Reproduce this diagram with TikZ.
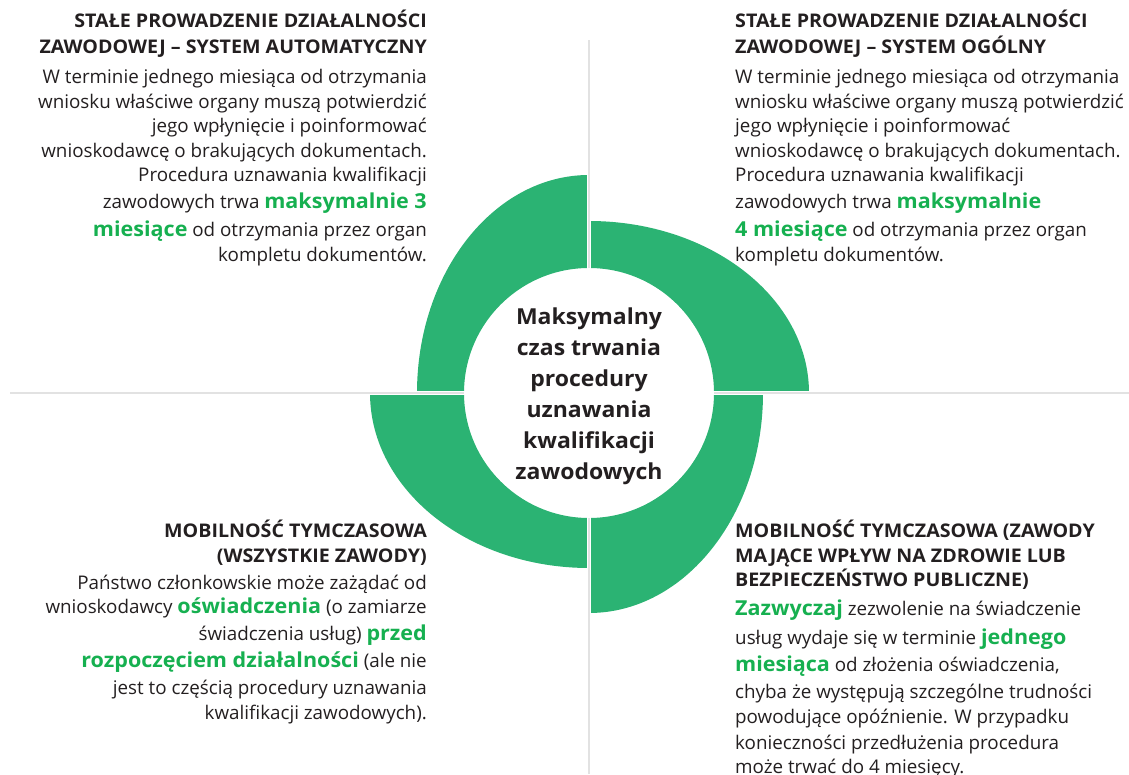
\documentclass[tikz,border=0pt]{standalone}
\usepackage{fontspec}
\setmainfont{Open Sans}[BoldFeatures={FakeStretch=1.045}]
\usetikzlibrary{positioning,calc}
\definecolor{ringgreen}{RGB}{43,179,115}
\definecolor{hlgreen}{RGB}{22,176,80}
\definecolor{ink}{RGB}{35,31,32}
\definecolor{axisgray}{RGB}{226,226,226}
\newcommand{\hl}[1]{{\fontsize{20.6}{24.5}\selectfont\bfseries\color{hlgreen}#1}}

\tikzset{
  quarter/.style={fill=ringgreen},
  axis/.style={draw=axisgray, line width=1.6pt},
  blurb/.style={inner sep=0pt, text=ink, font=\fontsize{18.8}{24.5}\selectfont},
  core/.style={inner sep=0pt, text=ink, align=center, font=\bfseries\fontsize{22}{31}\selectfont},
}

\begin{document}
\begin{tikzpicture}[x=1pt,y=1pt]
  \useasboundingbox (0,0) rectangle (1129,774);
  \coordinate (c) at (589,381);

  % four quarters of the ring
  \foreach \a/\rx/\ry in {0/220/172, 90/172/218, 180/219/175, 270/174/220}
    \fill[quarter] ($(c)+(\a:125)$) -- ($(c)+(\a:{\rx} and {\ry})$)
      arc[start angle=\a, delta angle=90, x radius=\rx, y radius=\ry]
      -- ($(c)+(\a+90:125)$) arc[start angle=\a+90, delta angle=-90, radius=125] -- cycle;

  % gaps and axes
  \draw[white, line width=3.6pt] ($(c)+(-225,0)$) -- ($(c)+(225,0)$);
  \draw[white, line width=3.6pt] ($(c)+(0,-225)$) -- ($(c)+(0,225)$);
  \draw[axis] (10,381) -- ($(c)+(-125,0)$);
  \draw[axis] ($(c)+(125,0)$) -- (1129,381);
  \draw[axis] (589,734) -- ($(c)+(0,125)$);
  \draw[axis] ($(c)+(0,-125)$) -- (589,0);

  \node[core, below=3pt of c, anchor=center] (title) {Maksymalny\\czas trwania\\procedury\\uznawania\\kwalifikacji\\zawodowych};

  \node[blurb, align=right, anchor=north east] (automat) at (427,764) {%
    \textbf{STAŁE PROWADZENIE DZIAŁALNOŚCI}\\[1.5pt]
    \textbf{ZAWODOWEJ – SYSTEM AUTOMATYCZNY}\\[5.5pt]
    W terminie jednego miesiąca od otrzymania\\
    wniosku właściwe organy muszą potwierdzić\\
    jego wpłynięcie i poinformować\\
    wnioskodawcę o brakujących dokumentach.\\
    Procedura uznawania kwalifikacji\\[2.5pt]
    zawodowych trwa \hl{maksymalnie 3}\\[3.5pt]
    \hl{miesiące} od otrzymania przez organ\\
    kompletu dokumentów.};

  \node[blurb, align=left, anchor=north west] (ogolny) at (735,764) {%
    \textbf{STAŁE PROWADZENIE DZIAŁALNOŚCI}\\[1.5pt]
    \textbf{ZAWODOWEJ – SYSTEM OGÓLNY}\\[5.5pt]
    W terminie jednego miesiąca od otrzymania\\
    wniosku właściwe organy muszą potwierdzić\\
    jego wpłynięcie i poinformować\\
    wnioskodawcę o brakujących dokumentach.\\
    Procedura uznawania kwalifikacji\\[2.5pt]
    zawodowych trwa \hl{maksymalnie}\\[3.5pt]
    \hl{4 miesiące} od otrzymania przez organ\\
    kompletu dokumentów.};

  \node[blurb, align=right, anchor=north east] (wszystkie) at (427,254) {%
    \textbf{MOBILNOŚĆ TYMCZASOWA}\\
    \textbf{(WSZYSTKIE ZAWODY)}\\[2.5pt]
    Państwo członkowskie może zażądać od\\
    wnioskodawcy \hl{oświadczenia} (o zamiarze\\[2.5pt]
    świadczenia usług) \hl{przed}\\[2.5pt]
    \hl{rozpoczęciem działalności} (ale nie\\[2.5pt]
    jest to częścią procedury uznawania\\
    kwalifikacji zawodowych).};

  \node[blurb, align=left, anchor=north west] (zdrowie) at (735,254) {%
    \textbf{MOBILNOŚĆ TYMCZASOWA (ZAWODY}\\
    \textbf{MAJĄCE WPŁYW NA ZDROWIE LUB}\\
    \textbf{BEZPIECZEŃSTWO PUBLICZNE)}\\[4.5pt]
    \hl{Zazwyczaj} zezwolenie na świadczenie\\[4.5pt]
    usług wydaje się w terminie \hl{jednego}\\[2.5pt]
    \hl{miesiąca} od złożenia oświadczenia,\\[2.5pt]
    chyba że występują szczególne trudności\\
    powodujące opóźnienie. W przypadku\\[1.5pt]
    konieczności przedłużenia procedura\\
    może trwać do 4 miesięcy.};
\end{tikzpicture}
\end{document}
